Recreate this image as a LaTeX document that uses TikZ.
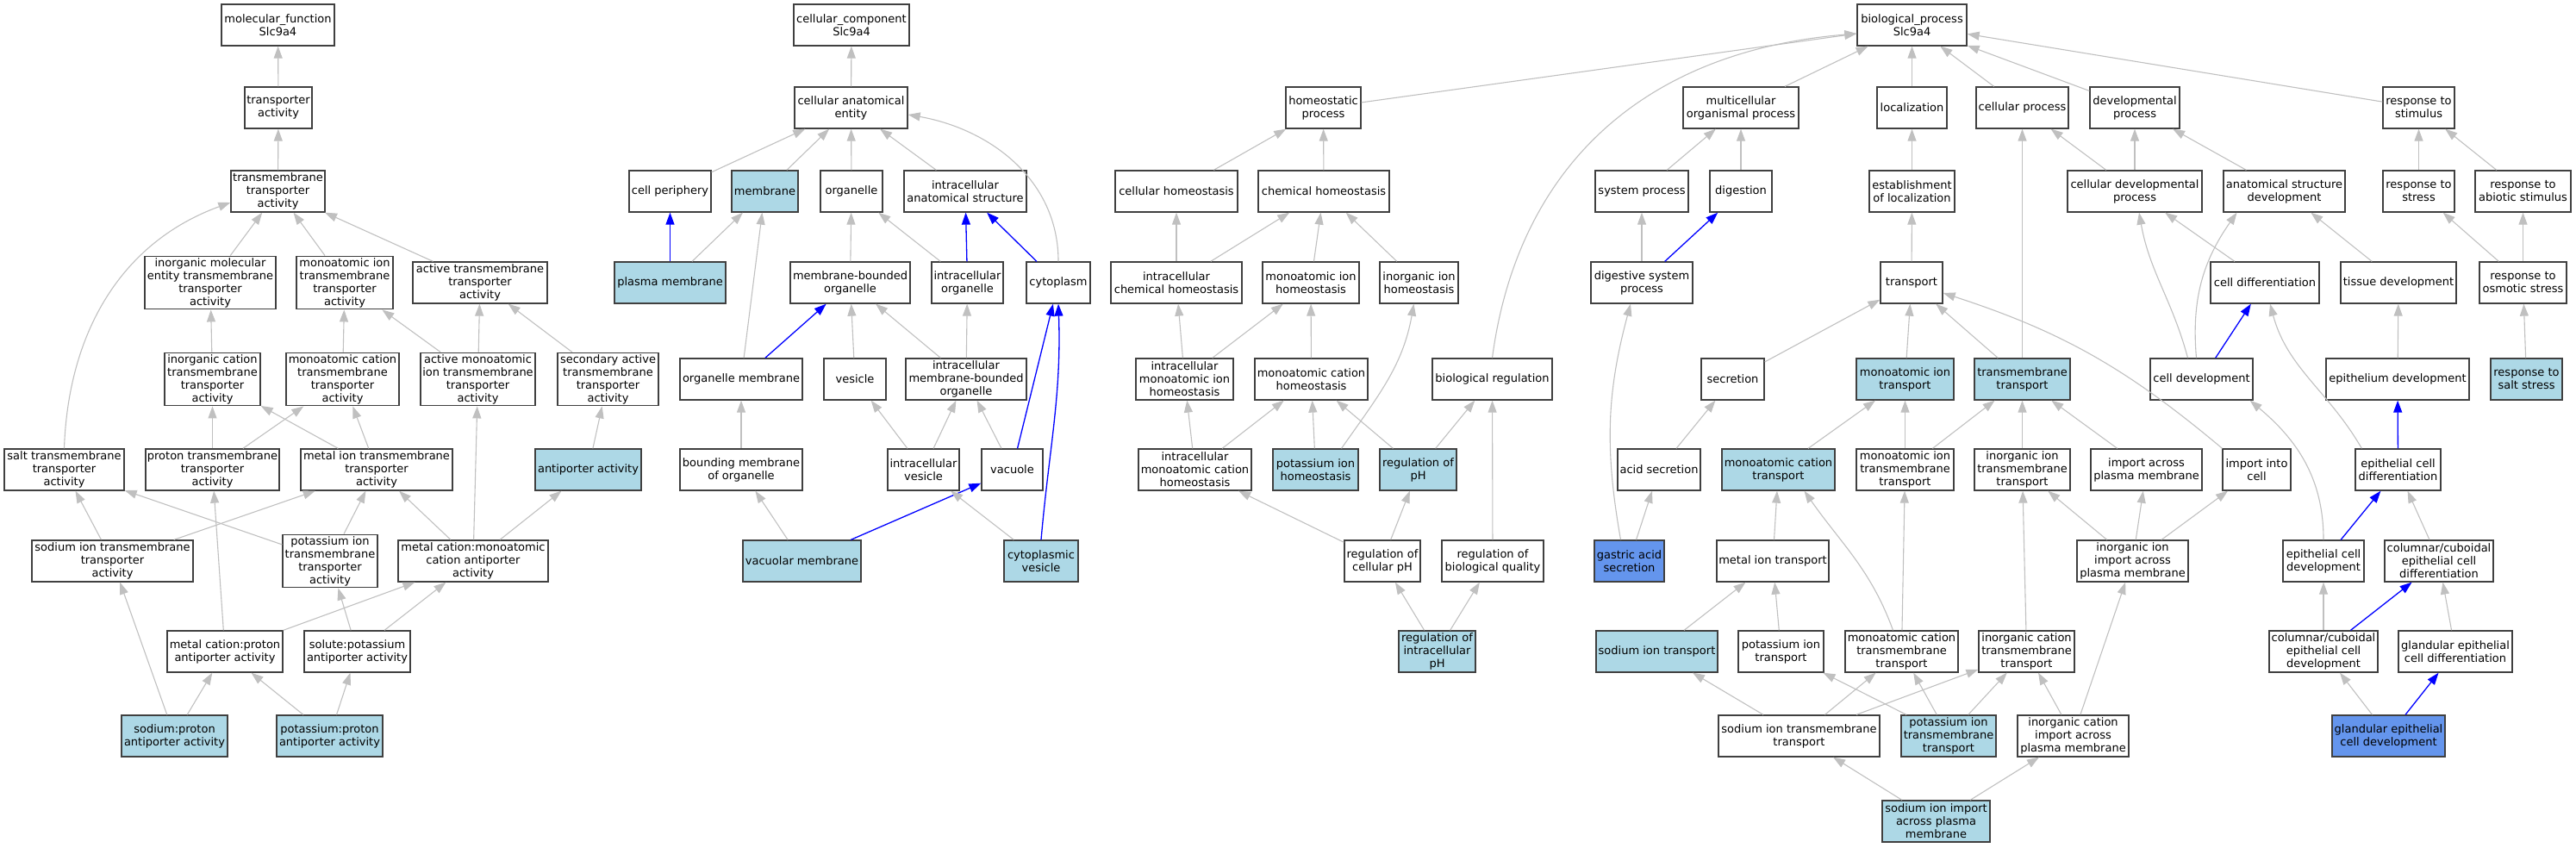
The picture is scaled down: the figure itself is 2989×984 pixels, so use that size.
\documentclass[tikz,border=0pt]{standalone}
\usepackage{fontspec}
\setmainfont{DejaVu Sans}
\usepackage{tikz}
\usetikzlibrary{arrows.meta}
\definecolor{goannot}{HTML}{ADD8E6}
\definecolor{goquery}{HTML}{6495ED}
\definecolor{edgegray}{HTML}{C0C0C0}

\begin{document}
\begin{tikzpicture}[x=1pt, y=-1pt,
	term/.style={draw=black!75, line width=1.3pt, fill=white, align=center, inner xsep=2pt, inner ysep=2pt, minimum height=48pt, font=\fontsize{13}{15}\selectfont},
	annot/.style={term, fill=goannot},
	query/.style={term, fill=goquery},
	isa/.style={edgegray, line width=1.1pt, -{Triangle[length=14pt,width=10pt]}},
	partof/.style={blue, line width=1.3pt, -{Triangle[length=14pt,width=10pt]}}]
	
	\useasboundingbox (0,0) rectangle (2989,984);
	
	\node[term, minimum width=131pt] (mf) at (322.5,29) {molecular\_function\\Slc9a4};
	\node[term, minimum width=78pt] (ta) at (323,125) {transporter\\activity};
	\node[term, minimum width=109pt] (tta) at (322.5,222) {transmembrane\\transporter\\activity};
	\node[term, minimum width=152pt] (imeta) at (244,328) {inorganic molecular\\entity transmembrane\\transporter\\activity};
	\node[term, minimum width=112pt] (mita) at (400,328) {monoatomic ion\\transmembrane\\transporter\\activity};
	\node[term, minimum width=156pt] (atta) at (557,328) {active transmembrane\\transporter\\activity};
	\node[term, minimum width=111pt] (icta) at (246.5,440) {inorganic cation\\transmembrane\\transporter\\activity};
	\node[term, minimum width=131pt] (mcta) at (397.5,440) {monoatomic cation\\transmembrane\\transporter\\activity};
	\node[term, minimum width=133pt] (amita) at (554.5,440) {active monoatomic\\ion transmembrane\\transporter\\activity};
	\node[term, minimum width=117pt] (sata) at (705.5,440) {secondary active\\transmembrane\\transporter\\activity};
	\node[term, minimum width=139pt] (stta) at (74.5,545) {salt transmembrane\\transporter\\activity};
	\node[term, minimum width=155pt] (ptta) at (246.5,545) {proton transmembrane\\transporter\\activity};
	\node[term, minimum width=176pt] (metta) at (437,545) {metal ion transmembrane\\transporter\\activity};
	\node[annot, minimum width=123pt] (anta) at (682.5,545) {antiporter activity};
	\node[term, minimum width=187pt] (sitta) at (130.5,651) {sodium ion transmembrane\\transporter\\activity};
	\node[term, minimum width=110pt] (pitta) at (383,651) {potassium ion\\transmembrane\\transporter\\activity};
	\node[term, minimum width=174pt] (mcmca) at (549,651) {metal cation:monoatomic\\cation antiporter\\activity};
	\node[term, minimum width=134pt] (mcpa) at (261,756) {metal cation:proton\\antiporter activity};
	\node[term, minimum width=123pt] (spa) at (414.5,756) {solute:potassium\\antiporter activity};
	\node[annot, minimum width=123pt] (sopa) at (202.5,854) {sodium:proton\\antiporter activity};
	\node[annot, minimum width=123pt] (popa) at (382.5,854) {potassium:proton\\antiporter activity};
	
	\node[term, minimum width=134pt] (cc) at (988,29) {cellular\_component\\Slc9a4};
	\node[term, minimum width=131pt] (cae) at (987.5,125) {cellular anatomical\\entity};
	\node[term, minimum width=95pt] (cp) at (777.5,222) {cell periphery};
	\node[annot, minimum width=77pt] (mem) at (887.5,222) {membrane};
	\node[term, minimum width=72pt] (org) at (988,222) {organelle};
	\node[term, minimum width=142pt] (ias) at (1120,222) {intracellular\\anatomical structure};
	\node[annot, minimum width=129pt] (pm) at (777.5,328) {plasma membrane};
	\node[term, minimum width=139pt] (mbo) at (986.5,328) {membrane-bounded\\organelle};
	\node[term, minimum width=83pt] (io) at (1122.5,328) {intracellular\\organelle};
	\node[term, minimum width=74pt] (cyt) at (1228,328) {cytoplasm};
	\node[term, minimum width=142pt] (om) at (860,440) {organelle membrane};
	\node[term, minimum width=72pt] (ves) at (992,440) {vesicle};
	\node[term, minimum width=140pt] (imbo) at (1121,440) {intracellular\\membrane-bounded\\organelle};
	\node[term, minimum width=142pt] (bmo) at (860,545) {bounding membrane\\of organelle};
	\node[term, minimum width=83pt] (iv) at (1071.5,545) {intracellular\\vesicle};
	\node[term, minimum width=71pt] (vac) at (1174.5,545) {vacuole};
	\node[annot, minimum width=137pt] (vm) at (930.5,651) {vacuolar membrane};
	\node[annot, minimum width=86pt] (cv) at (1208,651) {cytoplasmic\\vesicle};
	
	\node[term, minimum width=127pt] (bp) at (2218.5,29) {biological\_process\\Slc9a4};
	\node[term, minimum width=87pt] (hp) at (1535.5,125) {homeostatic\\process};
	\node[term, minimum width=134pt] (mop) at (2020,125) {multicellular\\organismal process};
	\node[term, minimum width=81pt] (loc) at (2218.5,125) {localization};
	\node[term, minimum width=107pt] (cpr) at (2346.5,125) {cellular process};
	\node[term, minimum width=104pt] (dp) at (2477,125) {developmental\\process};
	\node[term, minimum width=83pt] (rts) at (2806.5,125) {response to\\stimulus};
	\node[term, minimum width=142pt] (ch) at (1365,222) {cellular homeostasis};
	\node[term, minimum width=152pt] (chh) at (1536,222) {chemical homeostasis};
	\node[term, minimum width=108pt] (sp) at (1905,222) {system process};
	\node[term, minimum width=72pt] (dig) at (2020,222) {digestion};
	\node[term, minimum width=99pt] (eol) at (2218.5,222) {establishment\\of localization};
	\node[term, minimum width=156pt] (cdp) at (2477,222) {cellular developmental\\process};
	\node[term, minimum width=141pt] (asd) at (2650.5,222) {anatomical structure\\development};
	\node[term, minimum width=83pt] (rtst) at (2806.5,222) {response to\\stress};
	\node[term, minimum width=111pt] (rtas) at (2927.5,222) {response to\\abiotic stimulus};
	\node[term, minimum width=152pt] (ich) at (1365,328) {intracellular\\chemical homeostasis};
	\node[term, minimum width=112pt] (mih) at (1521,328) {monoatomic ion\\homeostasis};
	\node[term, minimum width=91pt] (iih) at (1646.5,328) {inorganic ion\\homeostasis};
	\node[term, minimum width=118pt] (dsp) at (1905,328) {digestive system\\process};
	\node[term, minimum width=72pt] (tr) at (2218,328) {transport};
	\node[term, minimum width=126pt] (cd) at (2628,328) {cell differentiation};
	\node[term, minimum width=134pt] (td) at (2783,328) {tissue development};
	\node[term, minimum width=101pt] (rtos) at (2927.5,328) {response to\\osmotic stress};
	\node[term, minimum width=113pt] (imih) at (1374.5,440) {intracellular\\monoatomic ion\\homeostasis};
	\node[term, minimum width=131pt] (mch) at (1521.5,440) {monoatomic cation\\homeostasis};
	\node[term, minimum width=139pt] (br) at (1731.5,440) {biological regulation};
	\node[term, minimum width=73pt] (sec) at (2010.5,440) {secretion};
	\node[annot, minimum width=113pt] (mit) at (2210.5,440) {monoatomic ion\\transport};
	\node[annot, minimum width=111pt] (tmt) at (2346.5,440) {transmembrane\\transport};
	\node[term, minimum width=119pt] (celldev) at (2554.5,440) {cell development};
	\node[term, minimum width=166pt] (ed) at (2782,440) {epithelium development};
	\node[annot, minimum width=83pt] (rtss) at (2931.5,440) {response to\\salt stress};
	\node[term, minimum width=131pt] (imch) at (1386.5,545) {intracellular\\monoatomic cation\\homeostasis};
	\node[annot, minimum width=99pt] (pih) at (1526.5,545) {potassium ion\\homeostasis};
	\node[annot, minimum width=89pt] (rph) at (1645.5,545) {regulation of\\pH};
	\node[term, minimum width=96pt] (acs) at (1925,545) {acid secretion};
	\node[annot, minimum width=131pt] (mct) at (2063.5,545) {monoatomic cation\\transport};
	\node[term, minimum width=113pt] (mitt) at (2210.5,545) {monoatomic ion\\transmembrane\\transport};
	\node[term, minimum width=111pt] (iitt) at (2346.5,545) {inorganic ion\\transmembrane\\transport};
	\node[term, minimum width=129pt] (iapm) at (2490.5,545) {import across\\plasma membrane};
	\node[term, minimum width=79pt] (iic) at (2618.5,545) {import into\\cell};
	\node[term, minimum width=99pt] (ecd) at (2782.5,545) {epithelial cell\\differentiation};
	\node[term, minimum width=88pt] (rcph) at (1604,651) {regulation of\\cellular pH};
	\node[term, minimum width=118pt] (rbq) at (1732,651) {regulation of\\biological quality};
	\node[query, minimum width=81pt] (gas) at (1890.5,651) {gastric acid\\secretion};
	\node[term, minimum width=130pt] (mett) at (2057,651) {metal ion transport};
	\node[term, minimum width=129pt] (iiiapm) at (2474.5,651) {inorganic ion\\import across\\plasma membrane};
	\node[term, minimum width=94pt] (ecdev) at (2696,651) {epithelial cell\\development};
	\node[term, minimum width=126pt] (ccecd) at (2830,651) {columnar/cuboidal\\epithelial cell\\differentiation};
	\node[annot, minimum width=89pt] (riph) at (1667.5,756) {regulation of\\intracellular\\pH};
	\node[annot, minimum width=141pt] (sit) at (1922.5,756) {sodium ion transport};
	\node[term, minimum width=99pt] (pit) at (2066.5,756) {potassium ion\\transport};
	\node[term, minimum width=131pt] (mctt) at (2206.5,756) {monoatomic cation\\transmembrane\\transport};
	\node[term, minimum width=111pt] (ictt) at (2351.5,756) {inorganic cation\\transmembrane\\transport};
	\node[term, minimum width=126pt] (ccecdev) at (2696,756) {columnar/cuboidal\\epithelial cell\\development};
	\node[term, minimum width=132pt] (gecd) at (2849,756) {glandular epithelial\\cell differentiation};
	\node[term, minimum width=187pt] (sitt) at (2087.5,854) {sodium ion transmembrane\\transport};
	\node[annot, minimum width=110pt] (pitt) at (2261,854) {potassium ion\\transmembrane\\transport};
	\node[term, minimum width=129pt] (iciapm) at (2405.5,854) {inorganic cation\\import across\\plasma membrane};
	\node[query, minimum width=131pt] (gecdev) at (2771.5,854) {glandular epithelial\\cell development};
	\node[annot, minimum width=125pt] (siiapm) at (2246.5,953) {sodium ion import\\across plasma\\membrane};
	
	\draw[isa] (ta) -- (mf);
	\draw[isa] (tta) -- (ta);
	\draw[isa] (imeta) -- (tta);
	\draw[isa] (mita) -- (tta);
	\draw[isa] (atta) -- (tta);
	\draw[isa] (stta.north) to[out=88,in=200] ([yshift=-13pt]tta.west);
	\draw[isa] (icta) -- (imeta);
	\draw[isa] (mcta) -- (mita);
	\draw[isa] (amita) -- (mita);
	\draw[isa] (amita) -- (atta);
	\draw[isa] (sata) -- (atta);
	\draw[isa] (ptta) -- (icta);
	\draw[isa] (ptta) -- (mcta);
	\draw[isa] (metta) -- (icta);
	\draw[isa] (metta) -- (mcta);
	\draw[isa] (mcmca) -- (amita);
	\draw[isa] (anta) -- (sata);
	\draw[isa] (sitta) -- (stta);
	\draw[isa] (pitta) -- (stta);
	\draw[isa] (sitta) -- (metta);
	\draw[isa] (pitta) -- (metta);
	\draw[isa] (mcmca) -- (metta);
	\draw[isa] (mcmca) -- (anta);
	\draw[isa] (mcpa) -- (ptta);
	\draw[isa] (mcpa) -- (mcmca);
	\draw[isa] (spa) -- (pitta);
	\draw[isa] (spa) -- (mcmca);
	\draw[isa] (sopa) -- (sitta);
	\draw[isa] (sopa) -- (mcpa);
	\draw[isa] (popa) -- (mcpa);
	\draw[isa] (popa) -- (spa);
	
	\draw[isa] (cae) -- (cc);
	\draw[isa] (cp) -- (cae);
	\draw[isa] (mem) -- (cae);
	\draw[isa] (org) -- (cae);
	\draw[isa] (ias) -- (cae);
	\draw[isa] (cyt.north) to[out=90,in=-10] ([yshift=-8pt]cae.east);
	\draw[partof] (pm) -- (cp);
	\draw[isa] (pm) -- (mem);
	\draw[isa] (om) -- (mem);
	\draw[isa] (mbo) -- (org);
	\draw[isa] (io) -- (org);
	\draw[partof] (io) -- (ias);
	\draw[partof] (cyt) -- (ias);
	\draw[partof] (om) -- (mbo);
	\draw[isa] (ves) -- (mbo);
	\draw[isa] (imbo) -- (mbo);
	\draw[isa] (imbo) -- (io);
	\draw[isa] (bmo) -- (om);
	\draw[isa] (iv) -- (ves);
	\draw[isa] (iv) -- (imbo);
	\draw[isa] (vac) -- (imbo);
	\draw[partof] (vac) -- (cyt);
	\draw[isa] (vm) -- (bmo);
	\draw[partof] (vm) -- (vac);
	\draw[isa] (cv) -- (iv);
	\draw[partof] (cv.north) to[out=85,in=-88] (cyt.south);
	
	\draw[isa] (hp) -- ([yshift=-10pt]bp.west);
	\draw[isa] (br.north) .. controls (1760,200) and (1900,60) .. ([yshift=-10pt]bp.west);
	\draw[isa] (mop) -- (bp);
	\draw[isa] (loc) -- (bp);
	\draw[isa] (cpr) -- (bp);
	\draw[isa] (dp) -- (bp);
	\draw[isa] (rts) -- (bp);
	\draw[isa] (ch) -- (hp);
	\draw[isa] (chh) -- (hp);
	\draw[isa] (sp) -- (mop);
	\draw[isa] (dig) -- (mop);
	\draw[isa] (eol) -- (loc);
	\draw[isa] (cdp) -- (cpr);
	\draw[isa] (cdp) -- (dp);
	\draw[isa] (asd) -- (dp);
	\draw[isa] (rtst) -- (rts);
	\draw[isa] (rtas) -- (rts);
	\draw[isa] (ich) -- (ch);
	\draw[isa] (ich) -- (chh);
	\draw[isa] (mih) -- (chh);
	\draw[isa] (iih) -- (chh);
	\draw[isa] (dsp) -- (sp);
	\draw[partof] (dsp) -- (dig);
	\draw[isa] (tr) -- (eol);
	\draw[isa] (cd) -- (cdp);
	\draw[isa] (td) -- (asd);
	\draw[isa] (rtos) -- (rtst);
	\draw[isa] (rtos) -- (rtas);
	\draw[isa] (imih) -- (ich);
	\draw[isa] (imih) -- (mih);
	\draw[isa] (mch) -- (mih);
	\draw[isa] (sec) -- (tr);
	\draw[isa] (mit) -- (tr);
	\draw[isa] (tmt) -- (tr);
	\draw[isa] (tmt) -- (cpr);
	\draw[isa] ([xshift=-16pt]celldev.north) to[out=105,in=-80] ([xshift=5pt]cdp.south);
	\draw[isa] ([xshift=-6pt]celldev.north) to[out=95,in=-125] ([xshift=-55pt]asd.south);
	\draw[partof] (celldev) -- (cd);
	\draw[isa] (ed) -- (td);
	\draw[isa] (rtss) -- (rtos);
	\draw[isa] (imch) -- (imih);
	\draw[isa] (imch) -- (mch);
	\draw[isa] (pih) -- (mch);
	\draw[isa] ([xshift=30pt]pih.north) to[out=55,in=-100] ([xshift=-6pt]iih.south);
	\draw[isa] (rph) -- (mch);
	\draw[isa] (rph) -- (br);
	\draw[isa] (acs) -- (sec);
	\draw[isa] (mct) -- (mit);
	\draw[isa] (mitt) -- (mit);
	\draw[isa] (mitt) -- (tmt);
	\draw[isa] (iitt) -- (tmt);
	\draw[isa] (iapm) -- (tmt);
	\draw[isa] ([xshift=-40pt]iic.north) to[out=140,in=-18] ([yshift=-12pt]tr.east);
	\draw[partof] (ecd) -- (ed);
	\draw[isa] ([xshift=8pt]ecd.north west) to[out=120,in=-75] ([xshift=6pt]cd.south);
	\draw[isa] (rcph) -- (imch);
	\draw[isa] (rcph) -- (rph);
	\draw[isa] (rbq) -- (br);
	\draw[isa] ([xshift=-10pt]gas.north) to[out=100,in=-105] ([xshift=-13pt]dsp.south);
	\draw[isa] (gas) -- (acs);
	\draw[isa] (mett) -- (mct);
	\draw[isa] (ictt) -- (iitt);
	\draw[isa] (iiiapm) -- (iitt);
	\draw[isa] (iiiapm) -- (iapm);
	\draw[isa] (iiiapm) -- (iic);
	\draw[isa] (ecdev.north) to[out=90,in=-40] ([xshift=-4pt]celldev.south east);
	\draw[partof] (ecdev) -- (ecd);
	\draw[isa] (ccecd) -- (ecd);
	\draw[isa] (riph) -- (rcph);
	\draw[isa] (riph) -- (rbq);
	\draw[isa] (sit) -- (mett);
	\draw[isa] (pit) -- (mett);
	\draw[isa] ([xshift=-10pt]mctt.north) to[out=110,in=-55] ([xshift=30pt]mct.south);
	\draw[isa] (mctt) -- (mitt);
	\draw[isa] (ccecdev) -- (ecdev);
	\draw[partof] (ccecdev) -- (ccecd);
	\draw[isa] (gecd) -- (ccecd);
	\draw[isa] (sitt) -- (sit);
	\draw[isa] (sitt) -- (mctt);
	\draw[isa] (sitt) -- (ictt);
	\draw[isa] (pitt) -- (pit);
	\draw[isa] (pitt) -- (mctt);
	\draw[isa] (pitt) -- (ictt);
	\draw[isa] (iciapm) -- (ictt);
	\draw[isa] (iciapm) -- (iiiapm);
	\draw[isa] (gecdev) -- (ccecdev);
	\draw[partof] (gecdev) -- (gecd);
	\draw[isa] (siiapm) -- (sitt);
	\draw[isa] (siiapm) -- (iciapm);
\end{tikzpicture}
\end{document}
